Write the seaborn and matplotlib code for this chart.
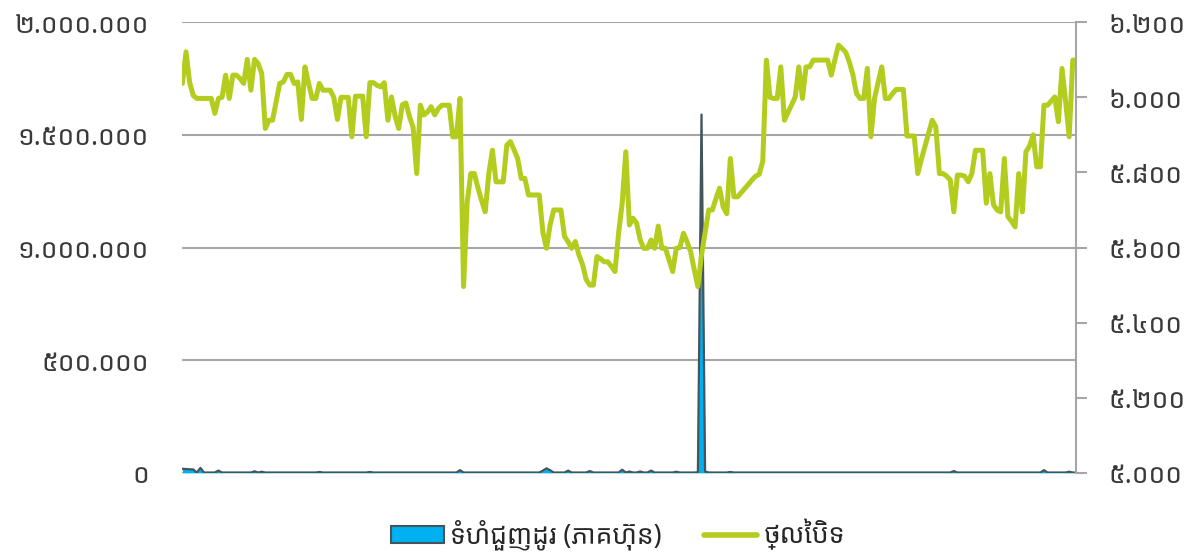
import numpy as np
import matplotlib
matplotlib.use('Agg')
import matplotlib.pyplot as plt
import seaborn as sns
from matplotlib import font_manager
from matplotlib.ft2font import FT2Font
from matplotlib.patches import Patch
from matplotlib.lines import Line2D
from matplotlib.ticker import FuncFormatter, MultipleLocator

# daily closing price (right axis)
close_price = [
    6037, 6121, 6040, 6005, 5997, 5997, 5997, 5997, 5997, 5957,
    5997, 6000, 6059, 5997, 6059, 6059, 6050, 6037, 6101, 6019,
    6101, 6090, 6064, 5917, 5939, 5939, 5988, 6037, 6041, 6061,
    6061, 6037, 6041, 5941, 6081, 6037, 5997, 5997, 6037, 6019,
    6019, 6019, 6000, 5941, 6000, 6000, 6000, 5895, 6003, 6003,
    6003, 5895, 6039, 6039, 6032, 6028, 6039, 5939, 6001, 5950,
    5917, 5980, 5985, 5948, 5920, 5797, 5979, 5953, 5961, 5975,
    5953, 5970, 5979, 5979, 5979, 5895, 5895, 5997, 5496, 5720,
    5797, 5797, 5758, 5725, 5695, 5797, 5859, 5775, 5775, 5775,
    5873, 5882, 5860, 5837, 5784, 5784, 5740, 5740, 5740, 5740,
    5640, 5598, 5660, 5700, 5700, 5700, 5630, 5615, 5598, 5616,
    5580, 5555, 5515, 5500, 5500, 5576, 5570, 5562, 5562, 5550,
    5536, 5638, 5718, 5855, 5660, 5678, 5665, 5620, 5598, 5598,
    5620, 5598, 5657, 5598, 5598, 5567, 5536, 5598, 5600, 5638,
    5615, 5589, 5540, 5496, 5580, 5640, 5700, 5700, 5730, 5758,
    5709, 5690, 5837, 5735, 5735, 5746, 5757, 5768, 5780, 5790,
    5795, 5830, 6099, 6000, 5997, 5997, 6081, 5939, 5960, 5980,
    6001, 6081, 5997, 6081, 6081, 6099, 6099, 6099, 6099, 6099,
    6059, 6100, 6139, 6130, 6120, 6094, 6060, 6010, 5997, 5997,
    6077, 5895, 5997, 6040, 6081, 5997, 5997, 6010, 6021, 6021,
    6021, 5897, 5897, 5897, 5797, 5835, 5870, 5905, 5939, 5921,
    5797, 5797, 5790, 5780, 5695, 5793, 5793, 5790, 5775, 5797,
    5859, 5859, 5859, 5718, 5797, 5714, 5700, 5695, 5837, 5682,
    5670, 5655, 5797, 5695, 5855, 5870, 5900, 5815, 5815, 5979,
    5979, 5990, 6001, 5935, 6077, 5990, 5895, 6099, 6099,
]

# traded volume (left axis): small base level plus the visible bumps
vol_base = 1500
vol_peak_day = [0, 1, 2, 3, 5, 10, 20, 22, 38, 52, 77, 100, 101, 102, 107,
                113, 122, 124, 127, 130, 137, 143, 144, 145, 152, 214, 239, 246]
vol_peak_value = [18000, 17000, 16000, 15000, 22000, 10000, 7000, 5000, 4000,
                  4000, 12000, 10000, 20000, 12000, 10000, 8000, 14000, 6000,
                  6000, 10000, 5000, 3000, 1590000, 6000, 4000, 8000, 12000, 5000]

label_volume = 'ទំហំជួញដូរ (ភាគហ៊ុន)'
label_price = 'ថ្លៃបិទ'

days = np.arange(len(close_price))
volume = np.full(len(close_price), vol_base, dtype=float)
volume[vol_peak_day] = vol_peak_value

sns.set_theme(style='white')


# pick an installed font that can draw Khmer, preferring a proportional sans
def font_rank(name):
    n = name.lower()
    score = 0
    if 'mono' in n or 'courier' in n:
        score += 10
    if 'sans' not in n:
        score += 2
    if 'khmer' in n:
        score -= 5
    return score


candidates = []
for path in font_manager.findSystemFonts():
    try:
        if 0x1780 in FT2Font(path).get_charmap():
            font_manager.fontManager.addfont(path)
            prop = font_manager.FontProperties(fname=path)
            if prop.get_weight() in ('normal', 'regular', 400) and prop.get_style() == 'normal':
                candidates.append(prop.get_name())
    except Exception:
        pass
candidates = sorted(set(candidates), key=font_rank)
families = candidates[:1] + ['DejaVu Sans']
plt.rcParams['font.family'] = families

KH = str.maketrans('0123456789', '០១២៣៤៥៦៧៨៩')


def kh_fmt(v, pos):
    return f'{int(round(v)):,}'.replace(',', '.').translate(KH)


fig = plt.figure(figsize=(12, 5.55), dpi=100)
ax = fig.add_axes([0.152, 0.148, 0.745, 0.812])

ax.fill_between(days, volume, color='#00b0f0', lw=0)
sns.lineplot(x=days, y=volume, ax=ax, color='#44555b', lw=1.6)
ax.set_xlim(0, len(close_price) - 1)
ax.set_ylim(0, 2000000)
ax.yaxis.set_major_locator(MultipleLocator(500000))
ax.yaxis.set_major_formatter(FuncFormatter(kh_fmt))
ax.grid(axis='y', color='#a6a6a6', lw=1.5)
ax.grid(axis='x', visible=False)
ax.set_axisbelow(True)
ax.set_xticks([])
for s in ax.spines.values():
    s.set_visible(False)
ax.tick_params(axis='y', length=0, pad=24, labelsize=19, labelcolor='#3a3a3a')

ax2 = ax.twinx()
sns.lineplot(x=days, y=close_price, ax=ax2, color='#b4cc1e', lw=3.6)
ax2.set_ylim(5000, 6200)
ax2.yaxis.set_major_locator(MultipleLocator(200))
ax2.yaxis.set_major_formatter(FuncFormatter(kh_fmt))
for k, s in ax2.spines.items():
    s.set_visible(k == 'right')
ax2.spines['right'].set_color('#a6a6a6')
ax2.spines['right'].set_linewidth(1.5)
ax2.tick_params(axis='y', length=8, width=1.5, color='#a6a6a6', pad=15,
                labelsize=19, labelcolor='#3a3a3a')
ax2.set_xticks([])
ax2.set_ylabel('')

handles = [Patch(facecolor='#00b0f0', edgecolor='#44555b', lw=1.5),
           Line2D([0], [0], color='#b4cc1e', lw=4)]
fig.legend(handles, [label_volume, label_price], loc='center',
           bbox_to_anchor=(0.515, 0.036), ncol=2, frameon=False, fontsize=19,
           handlelength=2.0, handleheight=0.6, handletextpad=0.25,
           columnspacing=1.6, labelcolor='#262626')

fig.savefig('out.png', dpi=100)
